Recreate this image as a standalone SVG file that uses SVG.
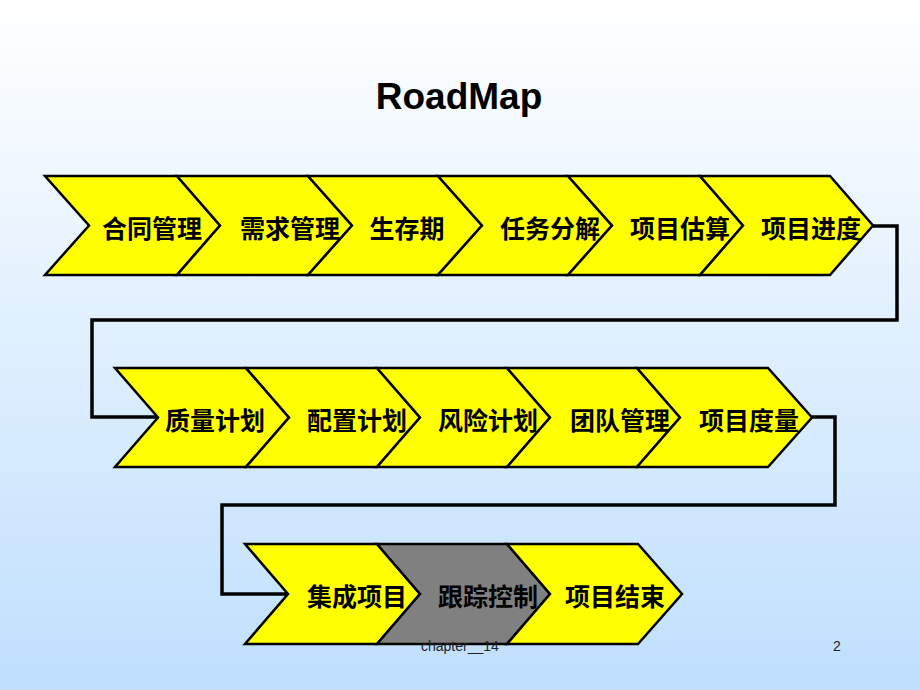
<svg xmlns="http://www.w3.org/2000/svg" width="920" height="690" viewBox="0 0 920 690">
<defs>
<linearGradient id="bg" x1="0" y1="0" x2="0" y2="1">
<stop offset="0" stop-color="#FFFFFF"/>
<stop offset="1" stop-color="#BFDFFD"/>
</linearGradient>
<style>
.chev{fill:#FFFF00;stroke:#000;stroke-width:2.5;stroke-linejoin:miter}
.gray{fill:#808080}
.lbl{font-family:"Noto Sans CJK SC","Liberation Sans",sans-serif;font-size:25px;font-weight:bold;fill:#000;text-anchor:middle;dominant-baseline:central}
.conn{fill:none;stroke:#000;stroke-width:3.5;stroke-linejoin:miter}
.title{font-family:"Liberation Sans",Arial,sans-serif;font-size:37px;font-weight:bold;fill:#000;text-anchor:middle}
.foot{font-family:"Liberation Sans",Arial,sans-serif;font-size:14px;fill:#222}
</style>
</defs>
<rect width="920" height="690" fill="url(#bg)"/>
<text class="title" x="459" y="109">RoadMap</text>
<g id="connectors">
<polyline class="conn" points="873,226 897,226 897,320 92,320 92,417 158,417"/>
<polyline class="conn" points="812,417 835,417 835,505 222,505 222,594 288,594"/>
</g>
<g id="n1"><polygon class="chev" points="45,176 177,176 220,225.5 177,275 45,275 89,225.5"/><text class="lbl" x="152" y="227">合同管理</text></g>
<g id="n2"><polygon class="chev" points="177,176 308,176 352,225.5 308,275 177,275 220,225.5"/><text class="lbl" x="290" y="227">需求管理</text></g>
<g id="n3"><polygon class="chev" points="308,176 438,176 482,225.5 438,275 308,275 352,225.5"/><text class="lbl" x="407" y="227">生存期</text></g>
<g id="n4"><polygon class="chev" points="438,176 568,176 612,225.5 568,275 438,275 482,225.5"/><text class="lbl" x="550" y="227">任务分解</text></g>
<g id="n5"><polygon class="chev" points="568,176 700,176 743,225.5 700,275 568,275 612,225.5"/><text class="lbl" x="680" y="227">项目估算</text></g>
<g id="n6"><polygon class="chev" points="700,176 830,176 873,225.5 830,275 700,275 743,225.5"/><text class="lbl" x="811" y="227">项目进度</text></g>
<g id="n7"><polygon class="chev" points="115,368 246,368 289,417.5 246,467 115,467 158,417.5"/><text class="lbl" x="215" y="419">质量计划</text></g>
<g id="n8"><polygon class="chev" points="246,368 377,368 420,417.5 377,467 246,467 289,417.5"/><text class="lbl" x="357" y="419">配置计划</text></g>
<g id="n9"><polygon class="chev" points="377,368 507,368 550,417.5 507,467 377,467 420,417.5"/><text class="lbl" x="488" y="419">风险计划</text></g>
<g id="n10"><polygon class="chev" points="507,368 637,368 680,417.5 637,467 507,467 550,417.5"/><text class="lbl" x="620" y="419">团队管理</text></g>
<g id="n11"><polygon class="chev" points="637,368 768,368 812,417.5 768,467 637,467 680,417.5"/><text class="lbl" x="749" y="419">项目度量</text></g>
<g id="n12"><polygon class="chev" points="245,544 377,544 420,594 377,644 245,644 288,594"/><text class="lbl" x="357" y="595">集成项目</text></g>
<g id="n13"><polygon class="chev gray" points="377,544 507,544 550,594 507,644 377,644 420,594"/><text class="lbl" x="488" y="595">跟踪控制</text></g>
<g id="n14"><polygon class="chev" points="507,544 638,544 682,594 638,644 507,644 550,594"/><text class="lbl" x="615" y="595">项目结束</text></g>
<text class="foot" x="421" y="651">chapter__14</text>
<text class="foot" x="833" y="651">2</text>
</svg>
